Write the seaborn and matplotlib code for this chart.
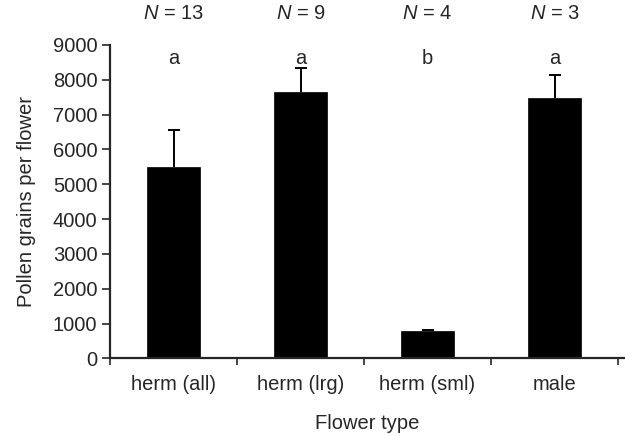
import matplotlib
matplotlib.use("Agg")
import matplotlib.pyplot as plt
import seaborn as sns
import pandas as pd

categories = ["herm (all)", "herm (lrg)", "herm (sml)", "male"]
means = [5500, 7650, 780, 7470]
errors = [1050, 680, 30, 670]
n_labels = ["13", "9", "4", "3"]
letters = ["a", "a", "b", "a"]
yticks = [0, 1000, 2000, 3000, 4000, 5000, 6000, 7000, 8000, 9000]

sns.set_style("ticks")
plt.rcParams["font.family"] = ["Liberation Sans", "DejaVu Sans"]
plt.rcParams["mathtext.fontset"] = "custom"
plt.rcParams["mathtext.it"] = "Liberation Sans:italic"
plt.rcParams["mathtext.rm"] = "Liberation Sans"

FS = 14.5

df = pd.DataFrame({"type": categories, "pollen": means})

fig = plt.figure(figsize=(6.25, 4.36), dpi=100)
ax = fig.add_axes([0.176, 0.178, 0.824, 0.719])

sns.barplot(data=df, x="type", y="pollen", color="black", width=0.41,
            edgecolor="black", linewidth=0.5, ax=ax, errorbar=None)
_, caplines, _ = ax.errorbar(range(len(categories)), means,
                             yerr=[[0] * len(errors), errors],
                             fmt="none", ecolor="black", elinewidth=1.4,
                             capsize=4.5, capthick=1.4)
caplines[0].set_visible(False)

ax.set_xlim(-0.5, 3.555)
ax.set_ylim(0, 9000)
ax.set_yticks(yticks)
ax.set_yticklabels([str(v) for v in yticks])
ax.set_xticks(range(len(categories)))
ax.set_xticklabels(categories)
ax.set_xticks([-0.5, 0.5, 1.5, 2.5, 3.5], minor=True)
ax.tick_params(axis="x", which="major", length=0, pad=12, labelsize=FS)
ax.tick_params(axis="x", which="minor", length=5, width=1.2, direction="out")
ax.tick_params(axis="y", length=6, width=1.2, labelsize=FS, pad=3)

for s in ["top", "right"]:
    ax.spines[s].set_visible(False)
for s in ["left", "bottom"]:
    ax.spines[s].set_linewidth(1.6)

ax.set_xlabel("Flower type", fontsize=FS, labelpad=14)
ax.set_ylabel("Pollen grains per flower", fontsize=FS, labelpad=12)

for i, (n, l) in enumerate(zip(n_labels, letters)):
    ax.text(i, 1.1, f"$N$ = {n}", transform=ax.get_xaxis_transform(),
            ha="center", va="center", fontsize=FS)
    ax.text(i, 8600, l, ha="center", va="center", fontsize=FS)

fig.savefig("out.png", dpi=100)
